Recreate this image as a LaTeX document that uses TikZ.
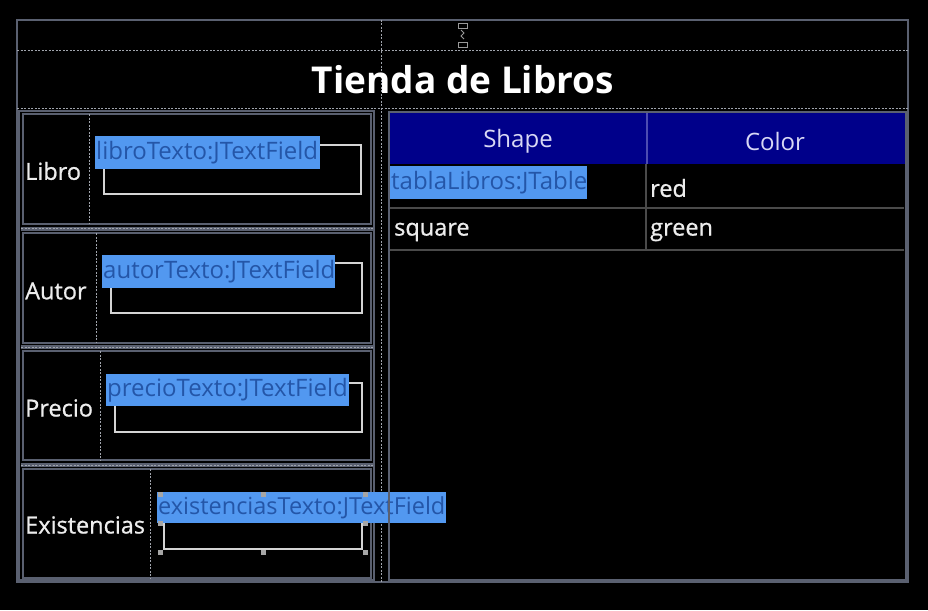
\documentclass[tikz,border=0pt]{standalone}
\usepackage{fontspec}
\setmainfont{Open Sans}
\newfontfamily\semib[FakeBold=0.8]{Open Sans}
\definecolor{framegray}{HTML}{5A6070}
\definecolor{dashgray}{HTML}{A0A4AC}
\definecolor{fieldgray}{HTML}{D4D4D4}
\definecolor{hlblue}{HTML}{5298F0}
\definecolor{hltext}{HTML}{2456A8}
\definecolor{navyhead}{HTML}{00008A}
\definecolor{headtext}{HTML}{D8D8F4}
\definecolor{labelwhite}{HTML}{EDEDED}
\definecolor{rowline}{HTML}{4A4A4A}
\begin{document}
\begin{tikzpicture}[x=1pt,y=-1pt,
  frame/.style={draw=framegray, line width=2.5pt},
  thinframe/.style={draw=framegray, line width=1.8pt},
  dashsep/.style={draw=dashgray, dash pattern=on 2pt off 1.5pt, line width=1pt},
  lbl/.style={text=labelwhite, font=\semib\fontsize{23.5}{26}\selectfont, anchor=west, inner sep=0pt},
  hl/.style={fill=hlblue, text=hltext, font=\fontsize{24}{26}\selectfont, anchor=north west, inner xsep=1pt, inner ysep=0pt, align=left},
  tf/.style={draw=fieldgray, line width=2pt, anchor=north west, inner sep=0pt},
  cell/.style={text=labelwhite, font=\semib\fontsize{23.5}{26}\selectfont, anchor=west, inner sep=0pt},
  head/.style={text=headtext, font=\fontsize{24}{26}\selectfont, inner sep=0pt},
  handle/.style={fill=gray!70, draw=none, minimum size=5pt, inner sep=0pt},
]
\useasboundingbox[fill=black] (0,0) rectangle (928,610);

% outer frame
\draw[frame] (17,20) rectangle (908,582);
\draw[dashsep] (17,51) -- (908,51);
\draw[dashsep] (17,108) -- (908,108);
\draw[dashsep] (381,20) -- (381,582);

% top small icon
\draw[draw=gray!80, line width=0.8pt] (458,23) rectangle (467,28);
\draw[draw=gray!80, line width=0.8pt] (458,42) rectangle (467,47);
\draw[draw=gray!80, line width=0.8pt] (461,30) -- (464,33) -- (461,36) -- (464,39);

% title
\node[text=white, font=\bfseries\fontsize{37}{40}\selectfont, inner sep=0pt] (title) at (463,80) {Tienda de Libros};

% left panel
\draw[frame] (19,111) rectangle (374,580);
\draw[thinframe] (23,114) rectangle (371,224);
\draw[thinframe] (23,233) rectangle (371,343);
\draw[thinframe] (23,351) rectangle (371,460);
\draw[thinframe] (23,469) rectangle (371,578);
\foreach \yy in {228.5,347,465}{
  \draw[framegray, line width=4pt] (21,\yy) -- (373,\yy);
  \draw[dashsep] (21,\yy) -- (373,\yy);
}
\draw[dashsep] (89,114) -- (89,224);
\draw[dashsep] (96,233) -- (96,343);
\draw[dashsep] (100,351) -- (100,460);
\draw[dashsep] (150,469) -- (150,578);

% labels
\node[lbl] (libro) at (25,171) {Libro};
\node[lbl] (autor) at (25,291) {Autor};
\node[lbl] (precio) at (25,408) {Precio};
\node[lbl] (exist) at (25,525) {Existencias};

% text fields
\node[tf, minimum width=257pt, minimum height=49pt] (libroBox) at (103,144) {};
\node[tf, minimum width=251pt, minimum height=50pt] (autorBox) at (110,262) {};
\node[tf, minimum width=247pt, minimum height=49pt] (precioBox) at (114,382) {};
\node[tf, minimum width=198pt, minimum height=30pt] (existBox) at (163,518) {};

\node[hl, text width=223pt, minimum height=33pt] (libroT) at (95,136) {libroTexto:JTextField};
\node[hl, text width=231pt, minimum height=33pt] (autorT) at (102,255) {autorTexto:JTextField};
\node[hl, text width=241pt, minimum height=32pt] (precioT) at (106,374) {precioTexto:JTextField};
\node[hl, font=\fontsize{23.5}{26}\selectfont, text width=287pt, minimum height=31pt] (existT) at (157,492) {existenciasTexto:JTextField};

% selection handles
\foreach \hx/\hy [count=\i] in {160/494,263/494,365/494,160/523,365/523,160/552,263/552,365/552}{
  \node[handle] (h\i) at (\hx,\hy) {};
}

% table
\draw[thinframe] (389,112) rectangle (906,580);
\fill[navyhead] (390,113) rectangle (905,164);
\draw[draw=blue!40!gray, line width=1.2pt] (647,113) -- (647,164);
\node[head] (shape) at (518,141) {Shape};
\node[head] (color) at (775,141) {Color};
\draw[rowline, line width=1.5pt] (390,208) -- (904,208);
\draw[rowline, line width=1.5pt] (390,250) -- (904,250);
\draw[rowline, line width=1.5pt] (646,164) -- (646,250);
\node[hl, text width=195pt, minimum height=33pt] (tablaT) at (390,166) {tablaLibros:JTable};
\node[cell] (red) at (650,188) {red};
\node[cell] (square) at (394,232) {square};
\node[cell] (green) at (650,232) {green};
\end{tikzpicture}
\end{document}
